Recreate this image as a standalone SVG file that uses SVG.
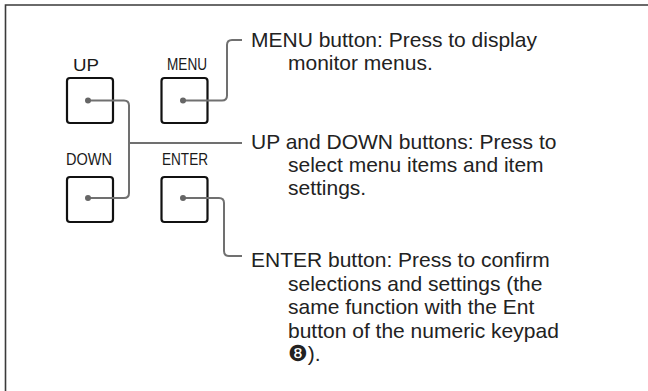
<svg xmlns="http://www.w3.org/2000/svg" width="648" height="391" viewBox="0 0 648 391">
<style>
.frame{fill:none;stroke:#3a3a3a;stroke-width:1.6}
.btn{fill:#fff;stroke:#111;stroke-width:2.2}
.lbl{font-family:"Liberation Sans",Arial,sans-serif;font-size:16px;fill:#1a1a1a}
.txt{font-family:"Liberation Sans",Arial,sans-serif;font-size:21px;fill:#222}
.conn{fill:none;stroke:#707070;stroke-width:2}
.dot{fill:#666}
.ding{font-family:"DejaVu Sans",sans-serif;font-size:22px}
</style>
<rect width="648" height="391" fill="#fff"/>
<path class="frame" d="M5.5,391 V5 H648"/>
<g id="btn-up">
<text class="lbl" x="73" y="70.5" textLength="26" lengthAdjust="spacingAndGlyphs">UP</text>
<rect class="btn" x="67" y="78" width="46" height="45" rx="3"/>
</g>
<g id="btn-menu">
<text class="lbl" x="167" y="70" textLength="40" lengthAdjust="spacingAndGlyphs">MENU</text>
<rect class="btn" x="161.5" y="78" width="46" height="45" rx="3"/>
</g>
<g id="btn-down">
<text class="lbl" x="66" y="165" textLength="46" lengthAdjust="spacingAndGlyphs">DOWN</text>
<rect class="btn" x="67" y="177" width="46" height="45" rx="3"/>
</g>
<g id="btn-enter">
<text class="lbl" x="162" y="164.5" textLength="46" lengthAdjust="spacingAndGlyphs">ENTER</text>
<rect class="btn" x="161.5" y="177" width="46" height="45" rx="3"/>
</g>
<g id="connectors">
<path class="conn" d="M183,100.5 H222 Q227,100.5 227,95.5 V45 Q227,40 232,40 H242"/>
<path class="conn" d="M88,100.5 H124 Q129,100.5 129,105.5 V193 Q129,198 124,198 H88"/>
<path class="conn" d="M129,143 H242"/>
<path class="conn" d="M183,198 H219 Q224,198 224,203 V251 Q224,256 229,256 H242"/>
<circle class="dot" cx="88" cy="100.5" r="3"/>
<circle class="dot" cx="183" cy="100.5" r="3"/>
<circle class="dot" cx="88" cy="198" r="3"/>
<circle class="dot" cx="183" cy="198" r="3"/>
</g>
<g id="desc-menu">
<text class="txt" x="251" y="47">MENU button: Press to display</text>
<text class="txt" x="288" y="70">monitor menus.</text>
</g>
<g id="desc-updown">
<text class="txt" x="251" y="149">UP and DOWN buttons: Press to</text>
<text class="txt" x="288" y="172">select menu items and item</text>
<text class="txt" x="288" y="195">settings.</text>
</g>
<g id="desc-enter">
<text class="txt" x="251" y="267">ENTER button: Press to confirm</text>
<text class="txt" x="288" y="290.5">selections and settings (the</text>
<text class="txt" x="288" y="314">same function with the Ent</text>
<text class="txt" x="288" y="337.5">button of the numeric keypad</text>
<text class="txt" x="288" y="361"><tspan class="ding">❽</tspan>).</text>
</g>
</svg>
